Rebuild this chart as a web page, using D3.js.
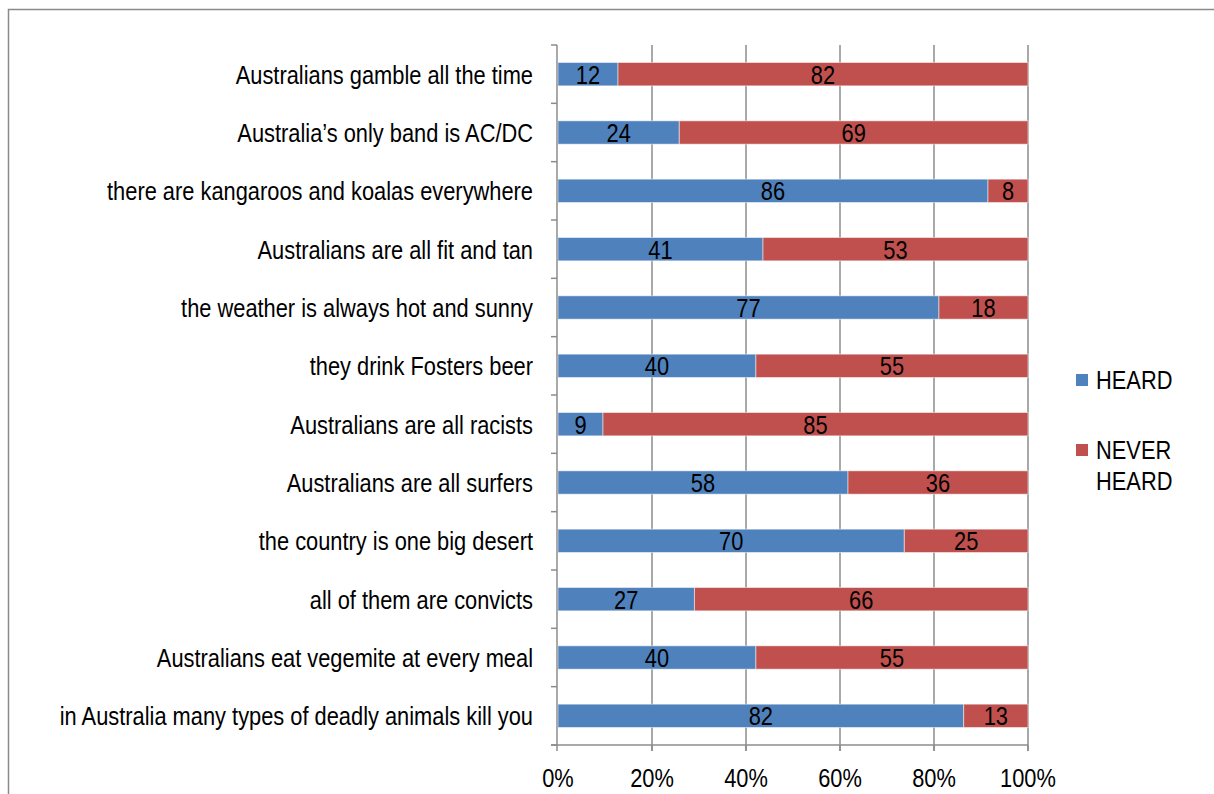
<!DOCTYPE html>
<html><head><meta charset="utf-8">
<script src="https://cdn.jsdelivr.net/npm/d3@7"></script>
<style>body{margin:0;background:#fff}svg text{font-family:"Liberation Sans Narrow","Arial Narrow","Liberation Sans",Arial,sans-serif;fill:#000}</style>
</head><body>
<svg id="c" width="1214" height="794"></svg>
<script>
const categories = ["Australians gamble all the time","Australia’s only band is AC/DC","there are kangaroos and koalas everywhere","Australians are all fit and tan","the weather is always hot and sunny","they drink Fosters beer","Australians are all racists","Australians are all surfers","the country is one big desert","all of them are convicts","Australians eat vegemite at every meal","in Australia many types of deadly animals kill you"];
const heard = [12,24,86,41,77,40,9,58,70,27,40,82];
const neverHeard = [82,69,8,53,18,55,85,36,25,66,55,13];
const seriesNames = ["HEARD","NEVER HEARD"];
const colors = ["#4F81BD","#C0504D"];
const tickValues = [0,0.2,0.4,0.6,0.8,1];

const FS = 26, SX = 0.84;
const svg = d3.select("#c");
function txt(g, x, y, s, anchor){
  return g.append("text").attr("transform",`translate(${x},${y}) scale(${SX},1)`)
    .attr("dy","0.36em").attr("text-anchor",anchor||"start").attr("font-size",FS).text(s);
}
svg.append("rect").attr("x",8.5).attr("y",9.5).attr("width",1220).attr("height",800).attr("fill","none").attr("stroke","#8a8a8a").attr("stroke-width",1.5);

const L=558,R=1028,T=45,B=745;
const x = d3.scaleLinear().domain([0,1]).range([L,R]);
const y = d3.scaleBand().domain(categories).range([T,B]).paddingInner(0.6).paddingOuter(0.3);
const yb = d3.scaleBand().domain(categories).range([T,B]);

// grid
svg.append("g").selectAll("line").data(tickValues.slice(1)).join("line")
  .attr("x1",d=>x(d)).attr("x2",d=>x(d)).attr("y1",T).attr("y2",B+6)
  .attr("stroke","#8c8c8c").attr("stroke-width",1.5);

// bars
const rows = categories.map((c,i)=>{const t=heard[i]+neverHeard[i];return {c, vals:[heard[i],neverHeard[i]], p:[heard[i]/t, neverHeard[i]/t]};});
const gb = svg.append("g");
rows.forEach(r=>{
  let acc=0;
  r.vals.forEach((v,k)=>{
    const x0=x(acc), x1=x(acc+r.p[k]);
    gb.append("rect").attr("x",x0).attr("y",y(r.c)).attr("width",x1-x0).attr("height",y.bandwidth())
      .attr("fill",colors[k]).attr("stroke","rgba(255,255,255,0.5)").attr("stroke-width",1);
    txt(gb,(x0+x1)/2,y(r.c)+y.bandwidth()/2,v,"middle");
    acc+=r.p[k];
  });
});

// y axis
svg.append("line").attr("x1",L-1).attr("x2",L-1).attr("y1",T).attr("y2",B).attr("stroke","#8c8c8c").attr("stroke-width",1.5);
svg.append("g").selectAll("line").data(d3.range(categories.length+1)).join("line")
  .attr("x1",L-7).attr("x2",L-1).attr("y1",i=>T+i*yb.step()).attr("y2",i=>T+i*yb.step())
  .attr("stroke","#8c8c8c").attr("stroke-width",1.5);
const gy = svg.append("g");
categories.forEach(c=>txt(gy,533,y(c)+y.bandwidth()/2,c,"end"));

// x axis
svg.append("line").attr("x1",L-7).attr("x2",R).attr("y1",B).attr("y2",B).attr("stroke","#8c8c8c").attr("stroke-width",1.5);
svg.append("g").selectAll("line").data(tickValues).join("line")
  .attr("x1",d=>x(d)-(d===0?1:0)).attr("x2",d=>x(d)-(d===0?1:0)).attr("y1",B).attr("y2",B+6)
  .attr("stroke","#8c8c8c").attr("stroke-width",1.5);
const gx = svg.append("g");
tickValues.forEach(d=>txt(gx,x(d),778,d3.format(".0%")(d),"middle"));

// legend
const lg = svg.append("g");
lg.append("rect").attr("x",1076).attr("y",374).attr("width",12).attr("height",12).attr("fill",colors[0]);
txt(lg,1096,380,seriesNames[0]);
lg.append("rect").attr("x",1076).attr("y",444).attr("width",12).attr("height",12).attr("fill",colors[1]);
txt(lg,1096,450,"NEVER");
txt(lg,1096,481,"HEARD");
</script>
</body></html>
